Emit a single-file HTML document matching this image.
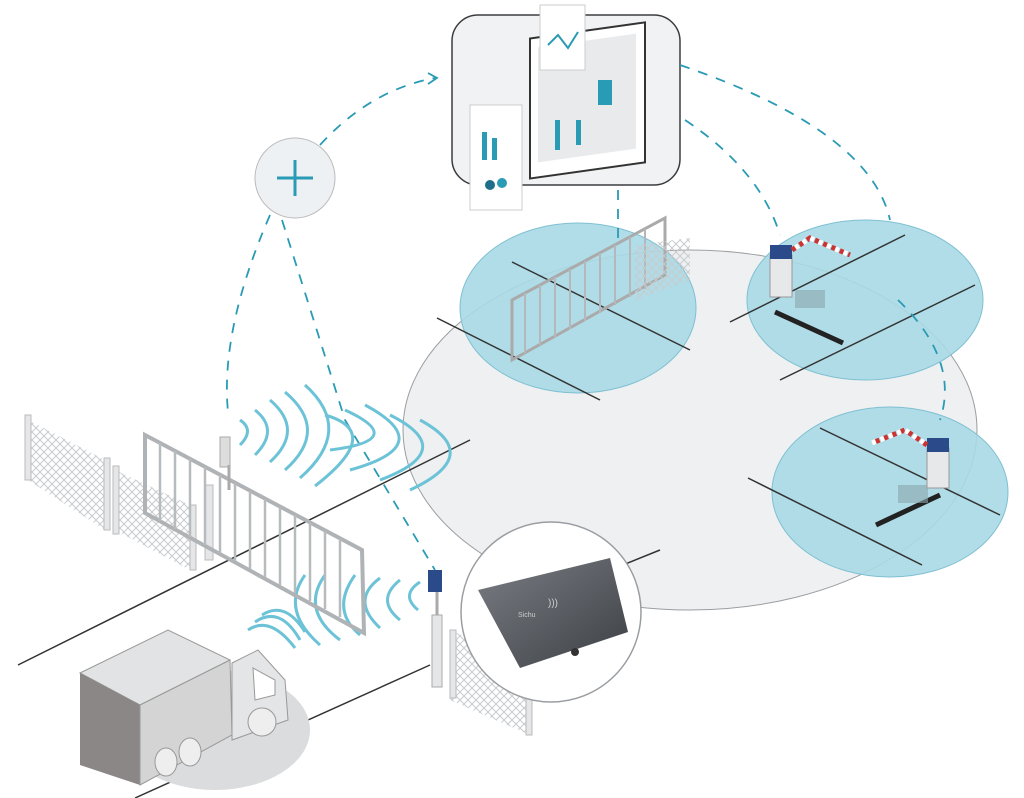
<!DOCTYPE html>
<html><head><meta charset="utf-8"><style>html,body{margin:0;padding:0;background:#fff}svg{display:block}</style></head>
<body>
<svg width="1024" height="798" viewBox="0 0 1024 798" xmlns="http://www.w3.org/2000/svg">
<defs>
<pattern id="mesh" width="8" height="8" patternUnits="userSpaceOnUse">
<path d="M0 0L8 8M8 0L0 8" stroke="#c8cbce" stroke-width="1"/>
</pattern>
<linearGradient id="dev" x1="0" y1="0" x2="1" y2="1"><stop offset="0" stop-color="#7a7e84"/><stop offset="1" stop-color="#3c3f44"/></linearGradient>
</defs>
<!-- big ellipse -->
<ellipse cx="690" cy="430" rx="287" ry="180" fill="#eef0f1" stroke="#9a9ea2" stroke-width="1"/>
<!-- blue zones -->
<g fill="#a9d9e5" fill-opacity="0.9" stroke="#7fc0d2">
<ellipse cx="578" cy="308" rx="118" ry="85"/>
<ellipse cx="865" cy="300" rx="118" ry="80"/>
<ellipse cx="890" cy="492" rx="118" ry="85"/>
</g>
<!-- lines -->
<g stroke="#333" stroke-width="1.5" fill="none">
<line x1="512" y1="262" x2="690" y2="350"/>
<line x1="437" y1="318" x2="600" y2="400"/>
<line x1="730" y1="322" x2="905" y2="235"/>
<line x1="780" y1="380" x2="975" y2="285"/>
<line x1="820" y1="428" x2="1000" y2="515"/>
<line x1="748" y1="478" x2="922" y2="565"/>
<line x1="18" y1="665" x2="470" y2="440"/>
<line x1="598" y1="575" x2="660" y2="550"/>
<line x1="135" y1="798" x2="430" y2="665"/>
</g>
<line x1="775" y1="312" x2="843" y2="343" stroke="#222" stroke-width="5"/>
<line x1="876" y1="525" x2="940" y2="495" stroke="#222" stroke-width="5"/>
<rect x="795" y="290" width="30" height="18" fill="#8ba6ad" opacity=".6"/>
<rect x="898" y="485" width="30" height="18" fill="#8ba6ad" opacity=".6"/>
<!-- barrier posts -->
<rect x="770" y="255" width="22" height="42" fill="#e6e8ea" stroke="#999"/>
<rect x="770" y="245" width="22" height="14" fill="#2b4a8a"/>
<path d="M792 250 L810 238 L850 255" stroke="#c33" stroke-width="5" fill="none" stroke-dasharray="5 4"/>
<path d="M792 250 L810 238 L850 255" stroke="#fff" stroke-width="5" fill="none" stroke-dasharray="4 5" stroke-dashoffset="5"/>
<rect x="927" y="448" width="22" height="40" fill="#e6e8ea" stroke="#999"/>
<rect x="927" y="438" width="22" height="14" fill="#2b4a8a"/>
<path d="M927 445 L905 430 L872 443" stroke="#c33" stroke-width="5" fill="none" stroke-dasharray="5 4"/>
<path d="M927 445 L905 430 L872 443" stroke="#fff" stroke-width="5" fill="none" stroke-dasharray="4 5" stroke-dashoffset="5"/>
<!-- back gate -->
<path d="M512 300 L665 218 L665 275 L512 360 Z" fill="none" stroke="#aaa" stroke-width="3"/>
<g stroke="#b5b8bb" stroke-width="2">
<line x1="525" y1="293" x2="525" y2="353"/><line x1="540" y1="285" x2="540" y2="345"/><line x1="555" y1="277" x2="555" y2="337"/><line x1="570" y1="269" x2="570" y2="329"/><line x1="585" y1="261" x2="585" y2="321"/><line x1="600" y1="253" x2="600" y2="313"/><line x1="615" y1="245" x2="615" y2="305"/><line x1="630" y1="237" x2="630" y2="297"/><line x1="645" y1="229" x2="645" y2="289"/>
</g>
<path d="M635 245 L690 238 L690 280 L635 300 Z" fill="url(#mesh)"/>
<!-- monitor card -->
<rect x="452" y="15" width="228" height="170" rx="26" fill="#f1f2f3" stroke="#3a3d40" stroke-width="1.5"/>
<rect x="530" y="35" width="115" height="140" fill="#fff" stroke="#333" stroke-width="2" transform="skewY(-8) translate(0,78)"/>
<rect x="538" y="45" width="98" height="115" fill="#e8eaec" transform="skewY(-8) translate(0,78)"/>
<rect x="598" y="80" width="14" height="25" fill="#2a9bb5"/>
<rect x="576" y="120" width="5" height="25" fill="#2a9bb5"/>
<rect x="555" y="120" width="5" height="30" fill="#2a9bb5"/>
<rect x="540" y="5" width="45" height="65" fill="#fff" stroke="#ccc"/>
<polyline points="548,45 558,35 568,48 578,32" stroke="#2a9bb5" fill="none" stroke-width="2"/>
<rect x="470" y="105" width="52" height="105" fill="#fff" stroke="#ccc"/>
<rect x="482" y="132" width="5" height="28" fill="#2a9bb5"/><rect x="492" y="138" width="5" height="22" fill="#2a9bb5"/>
<circle cx="490" cy="185" r="5" fill="#1e6f8a"/><circle cx="502" cy="183" r="5" fill="#2a9bb5"/>
<!-- dashed connectors -->
<g stroke="#2a9bb5" stroke-width="1.8" fill="none" stroke-dasharray="10 9">
<path d="M320 145 Q370 90 435 78"/>
<path d="M270 215 Q220 330 228 412"/>
<path d="M282 220 Q320 340 345 420 L435 570"/>
<path d="M680 65 Q870 130 890 220"/>
<path d="M685 120 Q760 170 780 235"/>
<path d="M618 190 L618 240"/>
<path d="M898 300 Q960 360 940 420"/>
</g>
<path d="M428 73 L437 78 L428 84" stroke="#2a9bb5" stroke-width="1.8" fill="none"/>
<!-- plus circle -->
<circle cx="295" cy="178" r="40" fill="#eef1f3" stroke="#bbb"/>
<path d="M295 160 V196 M277 178 H313" stroke="#2a9bb5" stroke-width="3"/>
<!-- waves -->
<g stroke="#6cc3d8" stroke-width="3" fill="none">
<path d="M240 445 Q255 430 240 420" />
<path d="M255 455 Q280 430 255 410"/>
<path d="M270 462 Q305 430 270 400"/>
<path d="M285 470 Q330 430 285 392"/>
<path d="M300 478 Q355 430 305 385"/>
<path d="M315 486 Q385 432 325 415"/>
<path d="M330 450 Q410 440 345 410"/>
<path d="M350 470 Q440 445 365 405"/>
<path d="M380 480 Q460 450 390 415"/>
<path d="M410 490 Q485 455 420 420"/>
<path d="M320 645 Q280 610 305 575"/>
<path d="M340 640 Q300 610 325 575"/>
<path d="M360 635 Q330 610 355 575"/>
<path d="M380 628 Q350 600 380 578"/>
<path d="M400 620 Q375 600 400 580"/>
<path d="M418 610 Q400 595 420 582"/>
<path d="M248 630 Q270 615 295 648"/>
<path d="M255 622 Q280 605 300 640"/>
<path d="M262 615 Q285 600 305 632"/>
</g>
<!-- left fence -->
<path d="M28 420 L105 460 L105 530 L28 480 Z" fill="url(#mesh)"/>
<path d="M115 470 L190 505 L190 570 L115 530 Z" fill="url(#mesh)"/>
<rect x="25" y="415" width="6" height="65" fill="#e4e6e8" stroke="#bbb"/>
<rect x="104" y="458" width="6" height="72" fill="#e4e6e8" stroke="#bbb"/>
<rect x="113" y="466" width="6" height="68" fill="#e4e6e8" stroke="#bbb"/>
<rect x="190" y="505" width="6" height="65" fill="#e4e6e8" stroke="#bbb"/>
<rect x="205" y="485" width="8" height="75" fill="#e4e6e8" stroke="#bbb"/>
<!-- main gate -->
<path d="M145 435 L362 550 L364 633 L145 513 Z" fill="none" stroke="#b0b3b6" stroke-width="4"/>
<g stroke="#b8bbbe" stroke-width="2.5">
<line x1="160" y1="443" x2="160" y2="521"/><line x1="175" y1="451" x2="175" y2="529"/><line x1="190" y1="459" x2="190" y2="537"/><line x1="205" y1="467" x2="205" y2="545"/><line x1="220" y1="475" x2="220" y2="553"/><line x1="235" y1="483" x2="235" y2="561"/><line x1="250" y1="491" x2="250" y2="569"/><line x1="265" y1="499" x2="265" y2="577"/><line x1="280" y1="507" x2="280" y2="585"/><line x1="295" y1="515" x2="295" y2="593"/><line x1="310" y1="523" x2="310" y2="601"/><line x1="325" y1="531" x2="325" y2="609"/><line x1="340" y1="539" x2="340" y2="617"/>
</g>
<rect x="220" y="437" width="10" height="30" fill="#ddd" stroke="#aaa"/>
<line x1="229" y1="465" x2="229" y2="490" stroke="#aaa" stroke-width="3"/>
<!-- right post / reader -->
<rect x="428" y="570" width="14" height="22" fill="#2b4a8a"/>
<rect x="432" y="615" width="10" height="72" fill="#e4e6e8" stroke="#aaa"/>
<line x1="437" y1="592" x2="437" y2="615" stroke="#aaa" stroke-width="3"/>
<path d="M450 630 L530 665 L530 735 L450 700 Z" fill="url(#mesh)"/>
<rect x="450" y="630" width="6" height="68" fill="#e4e6e8" stroke="#bbb"/>
<rect x="526" y="665" width="6" height="70" fill="#e4e6e8" stroke="#bbb"/>
<!-- truck shadow -->
<ellipse cx="215" cy="730" rx="95" ry="60" fill="#dadcde"/>
<!-- truck -->
<path d="M80 673 L168 630 L230 660 L140 705 Z" fill="#e2e3e4" stroke="#999"/>
<path d="M80 673 L140 705 L140 785 L80 765 Z" fill="#8a8786"/>
<path d="M140 705 L230 660 L232 735 L140 785 Z" fill="#d4d4d5" stroke="#999"/>
<path d="M232 663 L258 650 L285 680 L288 720 L232 740 Z" fill="#e4e5e6" stroke="#999"/>
<path d="M253 668 L275 680 L275 695 L255 700 Z" fill="#fff" stroke="#999"/>
<circle cx="262" cy="722" r="14" fill="#eee" stroke="#999"/>
<ellipse cx="166" cy="762" rx="11" ry="14" fill="#eee" stroke="#999"/>
<ellipse cx="190" cy="752" rx="11" ry="14" fill="#eee" stroke="#999"/>
<!-- reader circle -->
<circle cx="551" cy="612" r="90" fill="#fff" stroke="#9a9ea2" stroke-width="1.5"/>
<path d="M478 590 L610 558 L628 632 L520 668 Z" fill="url(#dev)"/>
<text x="518" y="617" font-family="Liberation Sans, sans-serif" font-size="7" fill="#ccc">Sichu</text>
<text x="548" y="606" font-family="Liberation Sans, sans-serif" font-size="10" fill="#ccc">)))</text>
<circle cx="575" cy="652" r="4" fill="#333"/>
</svg>
</body></html>
